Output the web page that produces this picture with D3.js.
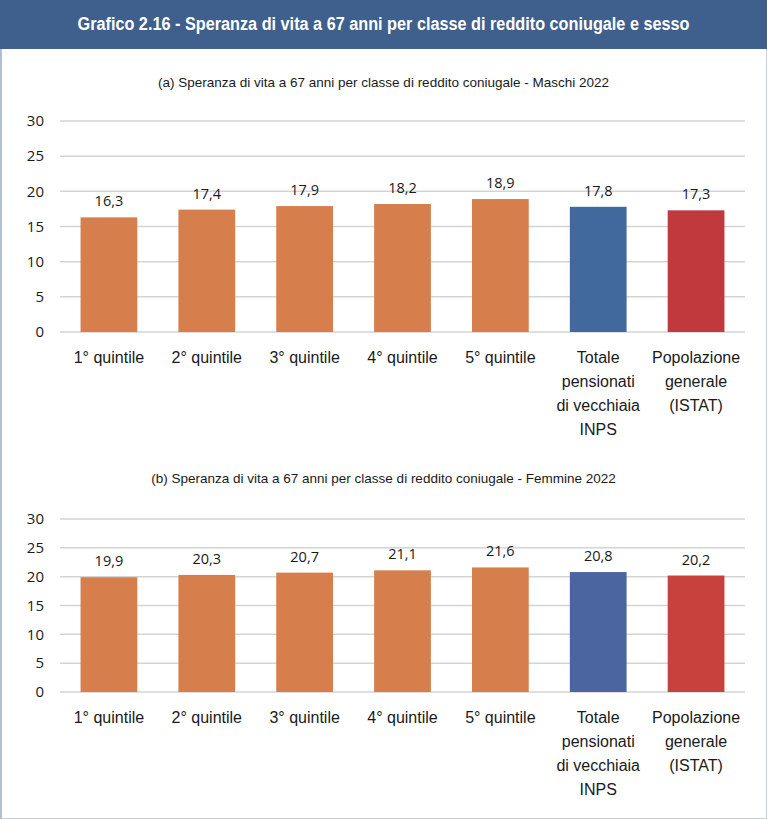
<!DOCTYPE html>
<html>
<head>
    <meta charset="utf-8">
    <title>Grafico 2.16</title>
    <script src="https://d3js.org/d3.v7.min.js"></script>
    <style>
        body { margin: 0; background: #fff; }
        svg text { font-family: "Liberation Sans Narrow", "Liberation Sans", sans-serif; fill: #1a1a1a; }
    </style>
</head>
<body>
    <script>
        // dati
        const categories = ["1° quintile", "2° quintile", "3° quintile", "4° quintile", "5° quintile",
            "Totale pensionati di vecchiaia INPS", "Popolazione generale (ISTAT)"];
        const categoryLines = [["1° quintile"], ["2° quintile"], ["3° quintile"], ["4° quintile"], ["5° quintile"],
            ["Totale", "pensionati", "di vecchiaia", "INPS"], ["Popolazione", "generale", "(ISTAT)"]];
        const maschi = [16.3, 17.4, 17.9, 18.2, 18.9, 17.8, 17.3];
        const femmine = [19.9, 20.3, 20.7, 21.1, 21.6, 20.8, 20.2];
        const yTicks = [0, 5, 10, 15, 20, 25, 30];

        const title = "Grafico 2.16 - Speranza di vita a 67 anni per classe di reddito coniugale e sesso";
        const subA = "(a) Speranza di vita a 67 anni per classe di reddito coniugale - Maschi 2022";
        const subB = "(b) Speranza di vita a 67 anni per classe di reddito coniugale - Femmine 2022";

        const width = 767, height = 819;
        const it = d3.formatLocale({decimal: ",", thousands: ".", grouping: [3], currency: ["€", ""]});
        const fmt = it.format(".1f");

        const svg = d3.select("body").append("svg")
            .attr("width", width)
            .attr("height", height);

        // cornice e intestazione
        svg.append("rect")
            .attr("x", 0.5).attr("y", 0.5)
            .attr("width", width - 1).attr("height", height - 1)
            .attr("fill", "#fff").attr("stroke", "#c5cedc");
        svg.append("line")
            .attr("x1", 1).attr("x2", 1).attr("y1", 0).attr("y2", height)
            .attr("stroke", "#b3bfd1").attr("stroke-width", 2);

        svg.append("rect")
            .attr("x", 0).attr("y", 0)
            .attr("width", width).attr("height", 49)
            .attr("fill", "#3f5f8c");

        svg.append("text")
            .attr("x", width / 2).attr("y", 30)
            .attr("text-anchor", "middle")
            .attr("textLength", 612)
            .attr("lengthAdjust", "spacingAndGlyphs")
            .style("font-size", "18px")
            .style("font-weight", "bold")
            .style("fill", "#fff")
            .text(title);

        const x = d3.scaleBand()
            .domain(categories)
            .range([60, 745])
            .paddingInner(0.42)
            .paddingOuter(0.21);

        function drawPanel(values, colors, subtitle, subY, top, bottom) {
            const g = svg.append("g");

            g.append("text")
                .attr("x", width / 2).attr("y", subY)
                .attr("text-anchor", "middle")
                .style("font-size", "13.5px")
                .text(subtitle);

            const y = d3.scaleLinear().domain([0, 30]).range([bottom, top]);

            // griglia
            g.selectAll("line.grid")
                .data(yTicks)
                .join("line")
                .attr("class", "grid")
                .attr("x1", 60).attr("x2", 745)
                .attr("y1", d => y(d)).attr("y2", d => y(d))
                .attr("stroke", "#d4d4d4")
                .attr("stroke-width", 1.5);

            const yAxis = g.append("g")
                .attr("transform", "translate(44,0)")
                .call(d3.axisLeft(y).tickValues(yTicks).tickSize(0).tickPadding(0));
            yAxis.select(".domain").remove();
            yAxis.selectAll("text")
                .style("font-family", "'Open Sans', sans-serif")
                .style("font-size", "15px")
                .style("fill", "#1a1a1a");

            g.selectAll("rect.bar")
                .data(values)
                .join("rect")
                .attr("class", "bar")
                .attr("x", (d, i) => x(categories[i]))
                .attr("width", x.bandwidth())
                .attr("y", d => y(d))
                .attr("height", d => bottom - y(d))
                .attr("fill", (d, i) => colors[i]);

            g.selectAll("text.val")
                .data(values)
                .join("text")
                .attr("class", "val")
                .attr("x", (d, i) => x(categories[i]) + x.bandwidth() / 2)
                .attr("y", d => y(d) - 11)
                .attr("text-anchor", "middle")
                .style("font-family", "'Open Sans', sans-serif")
                .style("font-size", "14.5px")
                .text(d => fmt(d));

            const labels = g.selectAll("text.cat")
                .data(categoryLines)
                .join("text")
                .attr("class", "cat")
                .attr("x", (d, i) => x(categories[i]) + x.bandwidth() / 2)
                .attr("y", bottom + 31)
                .attr("text-anchor", "middle")
                .style("font-size", "16px");
            labels.selectAll("tspan")
                .data(d => d)
                .join("tspan")
                .attr("x", function() { return this.parentNode.getAttribute("x"); })
                .attr("dy", (d, i) => i === 0 ? 0 : 24)
                .text(d => d);
        }

        const orange = "#d77e4d";
        drawPanel(maschi, [orange, orange, orange, orange, orange, "#41699e", "#c0393d"],
            subA, 87, 121, 332);
        drawPanel(femmine, [orange, orange, orange, orange, orange, "#4a65a0", "#c8423d"],
            subB, 483, 519, 692);
    </script>
</body>
</html>
